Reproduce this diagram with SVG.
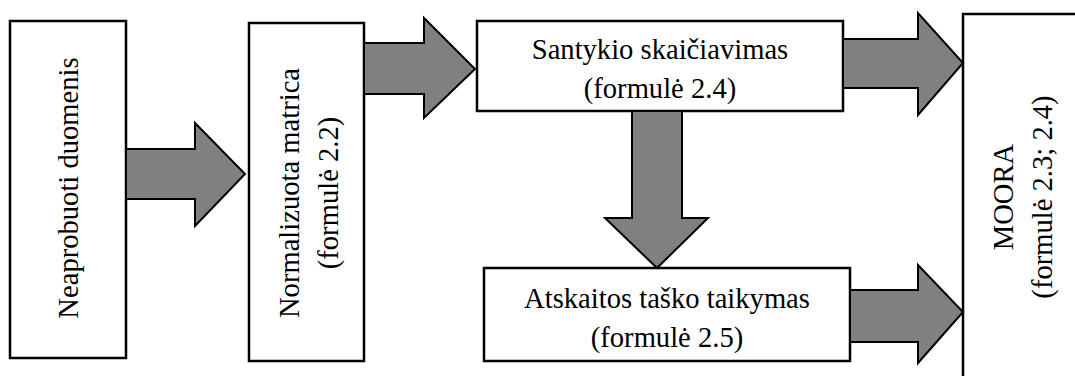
<svg xmlns="http://www.w3.org/2000/svg" width="1075" height="376" viewBox="0 0 1075 376">
<style>
.box{fill:#fff;stroke:#000;stroke-width:2.5}
.arr{fill:#808080;stroke:#000;stroke-width:2;stroke-linejoin:miter}
.t{font-family:'Liberation Serif','Times New Roman',serif;font-size:28.6px;fill:#000;text-anchor:middle}
</style>
<rect x="0" y="0" width="1075" height="376" fill="#fff"/>
<g id="node-neaprobuoti">
<rect class="box" x="10" y="21" width="116" height="337"/>
<text class="t" transform="translate(78,188) rotate(-90)">Neaprobuoti duomenis</text>
</g>
<g id="node-normalizuota">
<rect class="box" x="249" y="23" width="115" height="338"/>
<text class="t" transform="translate(299,193) rotate(-90)"><tspan x="0" y="0">Normalizuota matrica</tspan><tspan x="0" y="39">(formulė 2.2)</tspan></text>
</g>
<g id="node-santykio">
<rect class="box" x="477" y="21" width="366" height="90"/>
<text class="t"><tspan x="660" y="59">Santykio skaičiavimas</tspan><tspan x="660" y="98">(formulė 2.4)</tspan></text>
</g>
<g id="node-atskaitos">
<rect class="box" x="484" y="268" width="366" height="93"/>
<text class="t"><tspan x="667" y="308">Atskaitos taško taikymas</tspan><tspan x="667" y="347">(formulė 2.5)</tspan></text>
</g>
<g id="node-moora">
<rect class="box" x="963" y="14" width="130" height="380"/>
<text class="t" transform="translate(1013,197) rotate(-90)"><tspan x="0" y="0">MOORA</tspan><tspan x="0" y="39">(formulė 2.3; 2.4)</tspan></text>
</g>
<g id="connectors">
<polygon class="arr" points="126,149 195,149 195,123 245,174 195,226 195,199 126,199"/>
<polygon class="arr" points="364,43 424,43 424,18 475,69 424,118 424,94 364,94"/>
<polygon class="arr" points="632,111 682,111 682,218 708,218 657,268 605,218 632,218"/>
<polygon class="arr" points="843,39 918,39 918,13 963,63 918,115 918,88 843,88"/>
<polygon class="arr" points="850,290 918,290 918,265 963,312 918,363 918,342 850,342"/>
</g>
</svg>
